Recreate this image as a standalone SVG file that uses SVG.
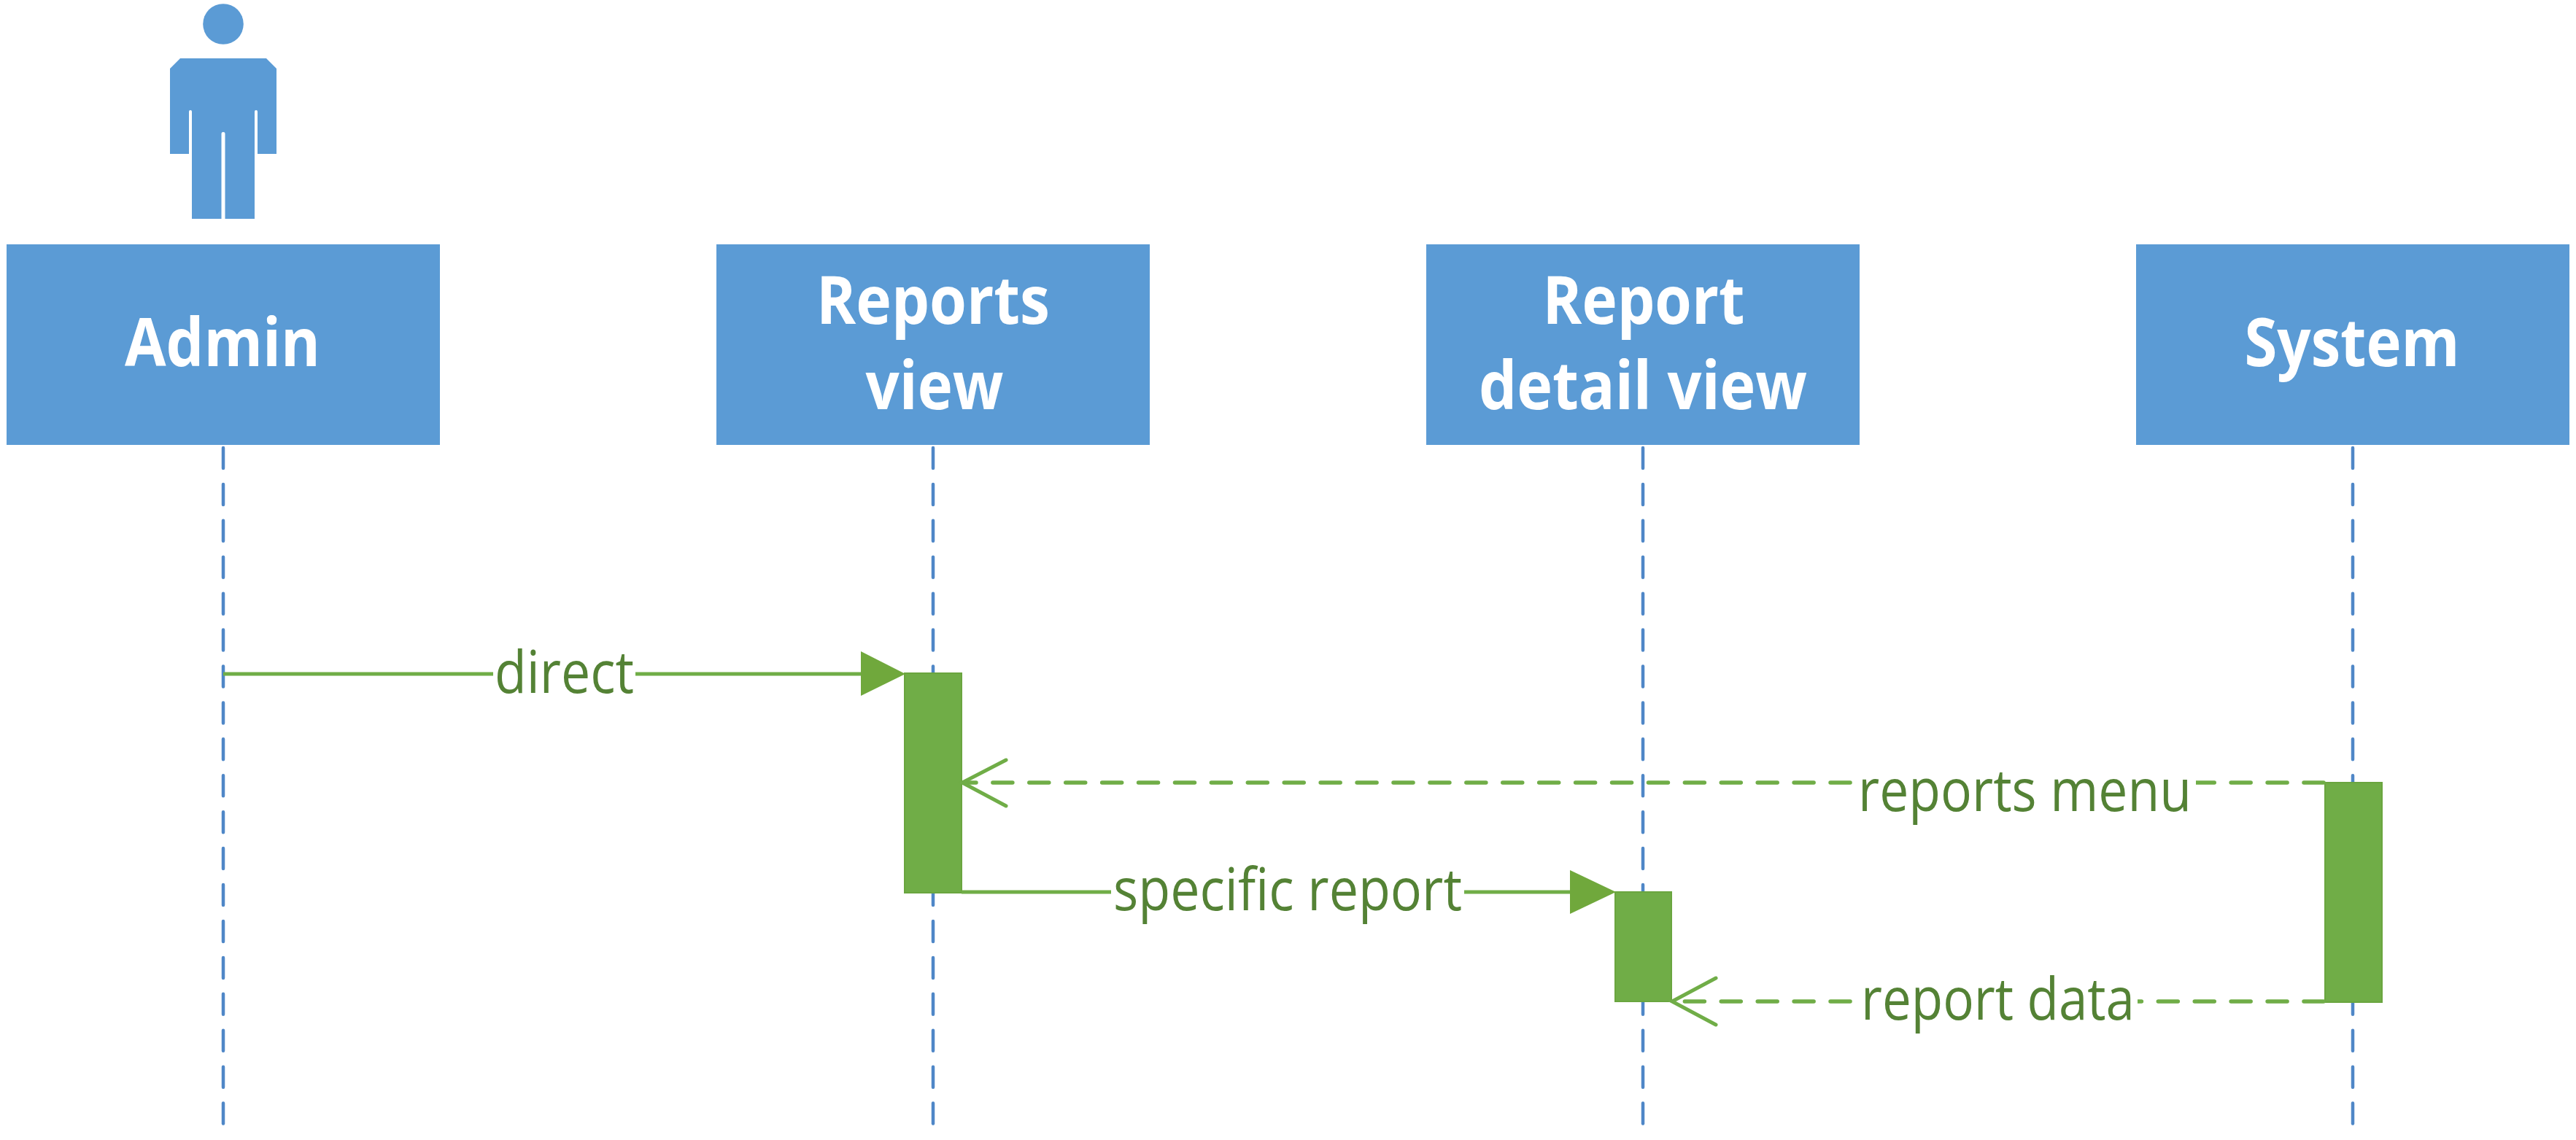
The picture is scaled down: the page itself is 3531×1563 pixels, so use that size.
<svg xmlns="http://www.w3.org/2000/svg" width="3531" height="1563" viewBox="0 0 3531 1563">
<style>
.box{fill:#5B9BD5}
.t{font-family:"Open Sans","Noto Sans","Liberation Sans",sans-serif;font-weight:700;font-size:92px;fill:#fff;text-anchor:middle}
.m{font-family:"Open Sans","Noto Sans","Liberation Sans",sans-serif;font-size:80px;fill:#548235}
.life{stroke:#4F87C7;stroke-width:4.5;stroke-linecap:round;stroke-dasharray:28 21.92;stroke-dashoffset:-2;fill:none}
.act{fill:#70AD47;stroke:#6AA53F;stroke-width:2}
.solid{stroke:#70AD47;stroke-width:5;fill:none}
.dash{stroke:#70AD47;stroke-width:5.5;stroke-linecap:round;stroke-dasharray:27 22.92;fill:none}
.open{stroke:#70AD47;stroke-width:5;stroke-linecap:round;fill:none}
.head{fill:#70A83C}
.bg{fill:#fff}
</style>
<rect width="3531" height="1563" fill="#fff"/>
<g id="connectors">
<path class="life" d="M306 612V1541"/>
<path class="life" d="M1279 612V1541"/>
<path class="life" d="M2252 612V1541"/>
<path class="life" d="M3225 612V1541"/>
</g>
<g id="actor-icon">
<circle class="box" cx="306" cy="33" r="27.8"/>
<path class="box" d="M247 80H365L379 94V211H353V153Q353 151 351 151Q349 151 349 153V300H308.500V183Q308.500 181 306 181Q303.500 181 303.500 183V300H263V153Q263 151 261 151Q259 151 259 153V211H233V94Z"/>
</g>
<g id="node-admin"><rect class="box" x="9" y="335" width="594" height="275"/><text class="t" x="305" y="502" textLength="268" lengthAdjust="spacingAndGlyphs">Admin</text></g>
<g id="node-reports-view"><rect class="box" x="982" y="335" width="594" height="275"/><text class="t" x="1279" y="444" textLength="320" lengthAdjust="spacingAndGlyphs">Reports</text><text class="t" x="1281" y="561" textLength="189" lengthAdjust="spacingAndGlyphs">view</text></g>
<g id="node-report-detail-view"><rect class="box" x="1955" y="335" width="594" height="275"/><text class="t" x="2253" y="444" textLength="277" lengthAdjust="spacingAndGlyphs">Report</text><text class="t" x="2252" y="561" textLength="450" lengthAdjust="spacingAndGlyphs">detail view</text></g>
<g id="node-system"><rect class="box" x="2928" y="335" width="594" height="275"/><text class="t" x="3224" y="502" textLength="295" lengthAdjust="spacingAndGlyphs">System</text></g>
<g id="activations">
<rect class="act" x="1240" y="923" width="78" height="301"/>
<rect class="act" x="2214" y="1223" width="77" height="150"/>
<rect class="act" x="3187" y="1073" width="78" height="301"/>
</g>
<g id="messages">
<path class="solid" d="M306 924H1182"/>
<polygon class="head" points="1180,893 1241,924 1180,954"/>
<path class="bg" d="M676 890H871V960H676Z"/>
<text class="m" x="678" y="950" textLength="191" lengthAdjust="spacingAndGlyphs">direct</text>
<path class="dash" d="M3185 1073H1320"/>
<path class="open" d="M1379 1042L1319 1073L1379 1105"/>
<path class="bg" d="M2541 1045H3010V1130H2541Z"/>
<text class="m" x="2547" y="1112" textLength="457" lengthAdjust="spacingAndGlyphs">reports menu</text>
<path class="solid" d="M1318 1223H2154"/>
<polygon class="head" points="2152,1193 2215,1223 2152,1253"/>
<path class="bg" d="M1523 1190H2007V1270H1523Z"/>
<text class="m" x="1526" y="1248" textLength="478" lengthAdjust="spacingAndGlyphs">specific report</text>
<path class="dash" d="M3185 1373H2293"/>
<path class="open" d="M2352 1341L2292 1373L2352 1405"/>
<path class="bg" d="M2541 1340H2930V1420H2541Z"/>
<text class="m" x="2551" y="1398" textLength="375" lengthAdjust="spacingAndGlyphs">report data</text>
</g>
</svg>
